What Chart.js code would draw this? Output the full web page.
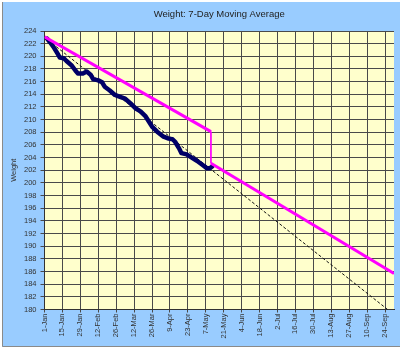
<!DOCTYPE html>
<html>
<head>
<meta charset="utf-8">
<script src="https://cdn.jsdelivr.net/npm/chart.js@4/dist/chart.umd.min.js"></script>
<style>
  html, body { margin: 0; padding: 0; background: #fff; }
  #wrap { width: 400px; height: 349px; }
</style>
</head>
<body>
<div id="wrap"><canvas id="weightChart" width="400" height="349"></canvas></div>
<script>
// Values. x is days since 1-Jan.
const xTickLabels = ['1-Jan', '15-Jan', '29-Jan', '12-Feb', '26-Feb', '12-Mar', '26-Mar', '9-Apr', '23-Apr', '7-May',
    '21-May', '4-Jun', '18-Jun', '2-Jul', '16-Jul', '30-Jul', '13-Aug', '27-Aug', '10-Sep', '24-Sep'];

// 7-day moving average (navy)
const avgDays = [2, 4, 7, 10, 12, 15, 17, 21, 24, 26, 30, 33, 36, 38, 42, 45, 47, 51, 55, 59,
    63, 67, 71, 75, 79, 84, 88, 93, 97, 100, 102, 105, 107, 111, 115, 119, 123, 127, 129, 131];
const avgWeights = [222.8, 222.3, 221.5, 220.5, 219.8, 219.7, 219.3, 218.6, 217.8, 217.3, 217.3, 217.6, 217.1, 216.4, 216.2, 215.9, 215.2, 214.6, 213.9, 213.6,
    213.3, 212.6, 211.8, 211.3, 210.5, 208.9, 208.1, 207.3, 207.0, 206.9, 206.5, 205.5, 204.7, 204.5, 204.0, 203.5, 202.9, 202.3, 202.3, 202.6];

// goal line (magenta), reset at the current date
const goalDays = [0, 130, 130, 273];
const goalWeights = [223.1, 208.1, 203.1, 185.7];

// linear trend (dashed)
const trendDays = [0, 268];
const trendWeights = [223.0, 180.0];

function toPoints(xs, ys) { return xs.map((x, i) => ({ x: x, y: ys[i] })); }

const FONT = '"Liberation Sans", Arial, sans-serif';

const backdrop = {
    id: 'backdrop',
    beforeDraw(chart) {
        const c = chart.ctx, a = chart.chartArea;
        c.save();
        c.fillStyle = '#ffffff';
        c.fillRect(0, 0, chart.width, chart.height);
        c.fillStyle = '#99ccff';
        c.fillRect(2, 2, chart.width - 2, chart.height - 4);
        c.strokeStyle = '#8a8a8a';
        c.lineWidth = 1;
        c.beginPath();
        c.moveTo(2.5, 2); c.lineTo(2.5, chart.height - 2.5); c.lineTo(chart.width, chart.height - 2.5);
        c.stroke();
        c.fillStyle = '#ffffcc';
        c.fillRect(a.left, a.top, a.right - a.left, a.bottom - a.top);
        c.restore();
    },
    afterDraw(chart) {
        const c = chart.ctx, a = chart.chartArea;
        c.save();
        c.fillStyle = '#222';
        c.font = '9.5px ' + FONT;
        c.textAlign = 'center';
        c.textBaseline = 'middle';
        c.fillText('Weight: 7-Day Moving Average', (a.left + a.right) / 2, 14.5);
        c.restore();
    }
};

new Chart(document.getElementById('weightChart'), {
    type: 'line',
    data: {
        datasets: [
            {
                data: toPoints(goalDays, goalWeights),
                borderColor: '#ff00ff',
                borderWidth: 3,
                segment: { borderWidth: ctx => ctx.p0.parsed.x === ctx.p1.parsed.x ? 1 : 3 },
                pointRadius: 0,
                order: 1
            },
            {
                data: toPoints(avgDays, avgWeights),
                borderColor: '#000066',
                borderWidth: 4.5,
                borderJoinStyle: 'round',
                borderCapStyle: 'round',
                pointRadius: 0,
                order: 2
            },
            {
                data: toPoints(trendDays, trendWeights),
                borderColor: '#111',
                borderWidth: 1,
                borderDash: [3, 2],
                pointRadius: 0,
                order: 3
            }
        ]
    },
    options: {
        responsive: false,
        animation: false,
        devicePixelRatio: 1,
        layout: { padding: { top: 31, right: 6, left: 0, bottom: 0 } },
        plugins: { legend: { display: false }, tooltip: { enabled: false }, title: { display: false } },
        scales: {
            x: {
                type: 'linear',
                min: 0,
                max: 273,
                afterFit: s => { s.height = 39.5; },
                ticks: {
                    stepSize: 14,
                    includeBounds: false,
                    autoSkip: false,
                    maxRotation: 90,
                    minRotation: 90,
                    padding: 1,
                    color: '#333',
                    font: { family: FONT, size: 7.5 },
                    callback: (v, i) => xTickLabels[i]
                },
                grid: { color: '#4a4a4a', lineWidth: 1, tickLength: 3 },
                border: { color: '#333' }
            },
            y: {
                min: 180,
                max: 224,
                afterFit: s => { s.width = 44.5; },
                ticks: {
                    stepSize: 2,
                    padding: 4,
                    color: '#333',
                    font: { family: FONT, size: 7.5 }
                },
                grid: { color: '#4a4a4a', lineWidth: 1, tickLength: 4 },
                border: { color: '#333' },
                title: {
                    display: true,
                    text: 'Weight',
                    color: '#333',
                    font: { family: FONT, size: 7.5 },
                    padding: { top: 9, bottom: 0 }
                }
            }
        }
    },
    plugins: [backdrop]
});
</script>
</body>
</html>
